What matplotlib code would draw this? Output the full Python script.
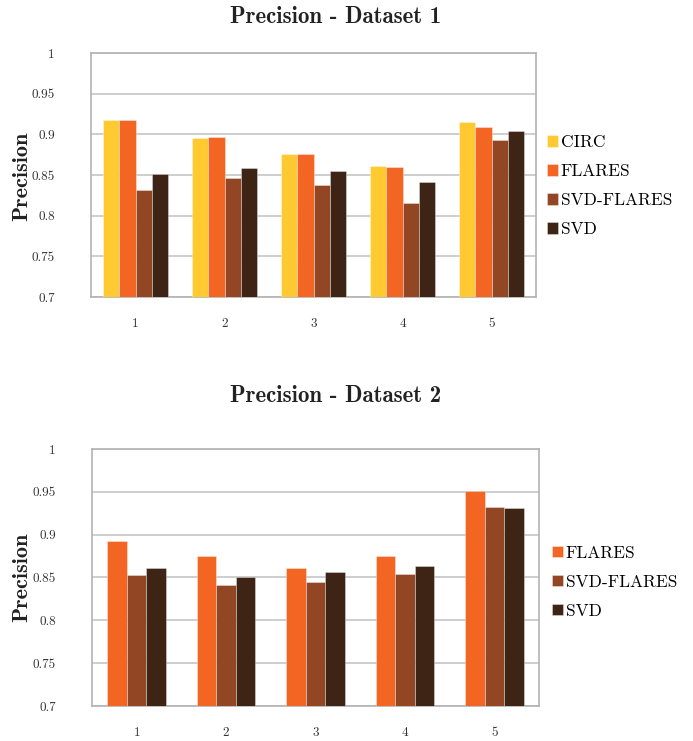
import numpy as np
import matplotlib
matplotlib.use("Agg")
import matplotlib.pyplot as plt

plt.rcParams['font.family'] = ['cmr10', 'DejaVu Serif']
plt.rcParams['axes.formatter.use_mathtext'] = True

# Precision per fold, dataset 1
groups = ['1', '2', '3', '4', '5']
circ_1 = [0.918, 0.896, 0.876, 0.861, 0.915]
flares_1 = [0.918, 0.897, 0.876, 0.860, 0.909]
svd_flares_1 = [0.831, 0.846, 0.838, 0.816, 0.893]
svd_1 = [0.851, 0.859, 0.855, 0.841, 0.904]

# Precision per fold, dataset 2
flares_2 = [0.893, 0.875, 0.861, 0.875, 0.951]
svd_flares_2 = [0.853, 0.841, 0.845, 0.854, 0.932]
svd_2 = [0.861, 0.850, 0.856, 0.864, 0.931]

yticks = [0.7, 0.75, 0.8, 0.85, 0.9, 0.95, 1.0]
ytick_labels = ['0.7', '0.75', '0.8', '0.85', '0.9', '0.95', '1']

colors = {'CIRC': '#FFCA31', 'FLARES': '#F26522',
          'SVD-FLARES': '#924623', 'SVD': '#3D2414'}


def draw_panel(ax, series, width):
    x = np.arange(len(groups))
    n = len(series)
    handles = []
    for i, (name, vals) in enumerate(series):
        offs = (i - (n - 1) / 2) * width
        b = ax.bar(x + offs, vals, width, color=colors[name],
                   edgecolor=(1, 1, 1, 0.35), linewidth=0.7, label=name, zorder=3)
        handles.append(b)
    ax.set_xlim(-0.5, len(groups) - 0.5)
    ax.set_ylim(0.7, 1.0)
    ax.set_yticks(yticks)
    ax.set_yticklabels(ytick_labels)
    ax.set_xticks(x)
    ax.set_xticklabels(groups)
    ax.yaxis.grid(True, color='#c6c6c6', linewidth=1.2, zorder=0)
    ax.set_axisbelow(True)
    for sp in ax.spines.values():
        sp.set_color('#b3b3b3')
        sp.set_linewidth(1.2)
    ax.tick_params(axis='y', length=0, pad=26, labelsize=9.5, labelcolor='#333333')
    ax.tick_params(axis='x', length=0, pad=15, labelsize=9.5, labelcolor='#333333')
    return handles


fig = plt.figure(figsize=(6.93, 7.41), dpi=100)

ax1 = fig.add_axes([91 / 693, 1 - 297 / 741, 445 / 693, 244 / 741])
h1 = draw_panel(ax1, [('CIRC', circ_1), ('FLARES', flares_1),
                      ('SVD-FLARES', svd_flares_1), ('SVD', svd_1)], 0.18)
fig.text(336 / 693, 1 - 17 / 741, 'Precision - Dataset 1', family='cmb10',
         fontsize=16.5, ha='center', va='center', color='#222222')
fig.text(22 / 693, 1 - 176 / 741, 'Precision', family='cmb10', fontsize=16,
         rotation=90, ha='center', va='center', color='#222222')
fig.legend(handles=h1, loc='center left', bbox_to_anchor=(540 / 693, 1 - 186 / 741),
           frameon=False, fontsize=12.5, handlelength=0.65, handleheight=0.65,
           handletextpad=0.15, labelspacing=0.78, borderaxespad=0)

ax2 = fig.add_axes([92 / 693, 1 - 706 / 741, 447 / 693, 257 / 741])
h2 = draw_panel(ax2, [('FLARES', flares_2), ('SVD-FLARES', svd_flares_2),
                      ('SVD', svd_2)], 0.218)
fig.text(336 / 693, 1 - 396 / 741, 'Precision - Dataset 2', family='cmb10',
         fontsize=16.5, ha='center', va='center', color='#222222')
fig.text(22 / 693, 1 - 577 / 741, 'Precision', family='cmb10', fontsize=16,
         rotation=90, ha='center', va='center', color='#222222')
fig.legend(handles=h2, loc='center left', bbox_to_anchor=(545 / 693, 1 - 582 / 741),
           frameon=False, fontsize=12.5, handlelength=0.65, handleheight=0.65,
           handletextpad=0.15, labelspacing=0.78, borderaxespad=0)

fig.savefig('out.png', dpi=100, facecolor='white')
